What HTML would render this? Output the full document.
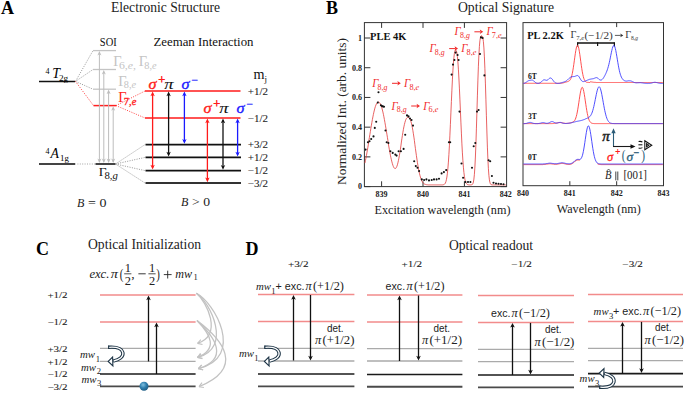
<!DOCTYPE html><html><head><meta charset="utf-8"><style>html,body{margin:0;padding:0;background:#fff;}svg{display:block;}</style></head><body><svg width="685" height="393" viewBox="0 0 685 393">
<rect width="685" height="393" fill="#fff"/>
<text x="1" y="14" font-family='"Liberation Serif", serif' font-size="18" fill="#000" font-weight="bold">A</text>
<text x="111" y="12" font-family='"Liberation Serif", serif' font-size="13.6" fill="#222" textLength="109" lengthAdjust="spacingAndGlyphs">Electronic Structure</text>
<text x="99.8" y="45.8" font-family='"Liberation Serif", serif' font-size="12" fill="#111" textLength="16.9" lengthAdjust="spacingAndGlyphs">SOI</text>
<text x="153.5" y="45.6" font-family='"Liberation Serif", serif' font-size="12" fill="#111" textLength="100" lengthAdjust="spacingAndGlyphs">Zeeman Interaction</text>
<line x1="39" y1="81.4" x2="75" y2="81.4" stroke="#111" stroke-width="1.5"/>
<line x1="39" y1="164" x2="75" y2="164" stroke="#444" stroke-width="2"/>
<text x="45.6" y="74" font-family='"Liberation Serif", serif' font-size="8" fill="#000">4</text>
<text x="52.3" y="78" font-family='"Liberation Serif", serif' font-size="14" fill="#000" font-style="italic">T</text>
<text x="58.9" y="80.6" font-family='"Liberation Serif", serif' font-size="8.5" fill="#000" textLength="9.3" lengthAdjust="spacingAndGlyphs">2g</text>
<text x="45.6" y="153.8" font-family='"Liberation Serif", serif' font-size="8" fill="#000">4</text>
<text x="50.6" y="157.7" font-family='"Liberation Serif", serif' font-size="13.8" fill="#000" font-style="italic">A</text>
<text x="60" y="161.3" font-family='"Liberation Serif", serif' font-size="8.5" fill="#000" textLength="8.8" lengthAdjust="spacingAndGlyphs">1g</text>
<line x1="93" y1="50.6" x2="116" y2="50.6" stroke="#c4c4c4" stroke-width="1.3"/>
<line x1="93" y1="69.5" x2="116" y2="69.5" stroke="#c4c4c4" stroke-width="1.3"/>
<line x1="93" y1="89.2" x2="116" y2="89.2" stroke="#c4c4c4" stroke-width="1.3"/>
<line x1="93.5" y1="105.6" x2="116" y2="105.6" stroke="#ff2020" stroke-width="1.5"/>
<line x1="75.5" y1="81.4" x2="93" y2="50.6" stroke="#8a8a8a" stroke-width="0.9" stroke-dasharray="1,1.4"/>
<line x1="75.5" y1="81.4" x2="93" y2="69.5" stroke="#8a8a8a" stroke-width="0.9" stroke-dasharray="1,1.4"/>
<line x1="75.5" y1="81.4" x2="93" y2="89.2" stroke="#8a8a8a" stroke-width="0.9" stroke-dasharray="1,1.4"/>
<line x1="75.5" y1="81.4" x2="93.5" y2="105.6" stroke="#ff3030" stroke-width="0.9" stroke-dasharray="1,1.4"/>
<line x1="75" y1="164" x2="95.5" y2="164" stroke="#999" stroke-width="0.9" stroke-dasharray="1,1.4"/>
<line x1="95.5" y1="164" x2="115.5" y2="164" stroke="#444" stroke-width="2"/>
<line x1="99.4" y1="52.9" x2="99.4" y2="162" stroke="#bdbdbd" stroke-width="1.0"/>
<polygon points="99.4,50.9 97.4,55.379999999999995 99.4,54.26 101.4,55.379999999999995" fill="#bdbdbd"/>
<polygon points="99.4,163 97.4,158.52 99.4,159.64 101.4,158.52" fill="#bdbdbd"/>
<line x1="103.8" y1="72" x2="103.8" y2="162" stroke="#bdbdbd" stroke-width="1.0"/>
<polygon points="103.8,70 101.8,74.48 103.8,73.36 105.8,74.48" fill="#bdbdbd"/>
<polygon points="103.8,163 101.8,158.52 103.8,159.64 105.8,158.52" fill="#bdbdbd"/>
<line x1="108.6" y1="91.6" x2="108.6" y2="162" stroke="#bdbdbd" stroke-width="1.0"/>
<polygon points="108.6,89.6 106.6,94.08 108.6,92.96 110.6,94.08" fill="#bdbdbd"/>
<polygon points="108.6,163 106.6,158.52 108.6,159.64 110.6,158.52" fill="#bdbdbd"/>
<line x1="113.2" y1="108.2" x2="113.2" y2="162" stroke="#bdbdbd" stroke-width="1.0"/>
<polygon points="113.2,106.2 111.2,110.68 113.2,109.56 115.2,110.68" fill="#bdbdbd"/>
<polygon points="113.2,163 111.2,158.52 113.2,159.64 115.2,158.52" fill="#bdbdbd"/>
<text x="113.3" y="65.9" font-family='"Liberation Serif", serif' font-size="14.5" fill="#c4c4c4">Γ</text>
<text x="118.89999999999999" y="68.60000000000001" font-family='"Liberation Serif", serif' font-size="9.5" fill="#c4c4c4" textLength="17" lengthAdjust="spacingAndGlyphs">6,<tspan font-style="italic">e</tspan>,</text>
<text x="138.7" y="65.9" font-family='"Liberation Serif", serif' font-size="14.5" fill="#c4c4c4">Γ</text>
<text x="144.29999999999998" y="68.60000000000001" font-family='"Liberation Serif", serif' font-size="9.5" fill="#c4c4c4" textLength="12.3" lengthAdjust="spacingAndGlyphs">8,<tspan font-style="italic">e</tspan></text>
<text x="118.2" y="85.7" font-family='"Liberation Serif", serif' font-size="14.5" fill="#c4c4c4">Γ</text>
<text x="123.8" y="88.4" font-family='"Liberation Serif", serif' font-size="9.5" fill="#c4c4c4" textLength="12.3" lengthAdjust="spacingAndGlyphs">8,<tspan font-style="italic">e</tspan></text>
<text x="118.2" y="102.2" font-family='"Liberation Serif", serif' font-size="14.5" fill="#ff2020">Γ</text>
<text x="123.8" y="104.9" font-family='"Liberation Serif", serif' font-size="9.5" fill="#ff2020" textLength="12.5" lengthAdjust="spacingAndGlyphs" stroke="#ff2020" stroke-width="0.3">7,<tspan font-style="italic">e</tspan></text>
<text x="98.8" y="176.3" font-family='"Liberation Serif", serif' font-size="13.5" fill="#111">Γ</text>
<text x="104.39999999999999" y="179.0" font-family='"Liberation Serif", serif' font-size="9.5" fill="#111" textLength="13.5" lengthAdjust="spacingAndGlyphs">8,<tspan font-style="italic">g</tspan></text>
<line x1="115.5" y1="164" x2="145" y2="144.6" stroke="#8a8a8a" stroke-width="0.9" stroke-dasharray="1,1.4"/>
<line x1="115.5" y1="164" x2="145" y2="157.4" stroke="#8a8a8a" stroke-width="0.9" stroke-dasharray="1,1.4"/>
<line x1="115.5" y1="164" x2="145" y2="170.6" stroke="#8a8a8a" stroke-width="0.9" stroke-dasharray="1,1.4"/>
<line x1="115.5" y1="164" x2="145" y2="183" stroke="#8a8a8a" stroke-width="0.9" stroke-dasharray="1,1.4"/>
<line x1="116" y1="105.6" x2="145" y2="91" stroke="#ff3030" stroke-width="0.9" stroke-dasharray="1,1.4"/>
<line x1="116" y1="105.6" x2="145" y2="118" stroke="#ff3030" stroke-width="0.9" stroke-dasharray="1,1.4"/>
<line x1="145" y1="91" x2="240.5" y2="91" stroke="#ff1a1a" stroke-width="1.35"/>
<line x1="145" y1="118" x2="240.5" y2="118" stroke="#ff1a1a" stroke-width="1.35"/>
<line x1="145.5" y1="144.6" x2="241" y2="144.6" stroke="#111" stroke-width="1.6"/>
<line x1="145.5" y1="157.4" x2="241" y2="157.4" stroke="#111" stroke-width="1.6"/>
<line x1="145.5" y1="170.6" x2="241" y2="170.6" stroke="#111" stroke-width="1.6"/>
<line x1="145.5" y1="183" x2="241" y2="183" stroke="#333" stroke-width="1.8"/>
<text x="253.4" y="79" font-family='"Liberation Serif", serif' font-size="15.5" fill="#111" textLength="11" lengthAdjust="spacingAndGlyphs">m</text>
<text x="264.6" y="82" font-family='"Liberation Serif", serif' font-size="9" fill="#111">j</text>
<text x="247.7" y="94.8" font-family='"Liberation Serif", serif' font-size="9.5" fill="#222" textLength="20.3" lengthAdjust="spacingAndGlyphs" stroke="#222" stroke-width="0.08">+1/2</text>
<text x="247.7" y="121.8" font-family='"Liberation Serif", serif' font-size="9.5" fill="#222" textLength="20.3" lengthAdjust="spacingAndGlyphs" stroke="#222" stroke-width="0.08">−1/2</text>
<text x="247.7" y="148.4" font-family='"Liberation Serif", serif' font-size="9.5" fill="#222" textLength="20.3" lengthAdjust="spacingAndGlyphs" stroke="#222" stroke-width="0.08">+3/2</text>
<text x="247.7" y="161.20000000000002" font-family='"Liberation Serif", serif' font-size="9.5" fill="#222" textLength="20.3" lengthAdjust="spacingAndGlyphs" stroke="#222" stroke-width="0.08">+1/2</text>
<text x="247.7" y="174.4" font-family='"Liberation Serif", serif' font-size="9.5" fill="#222" textLength="20.3" lengthAdjust="spacingAndGlyphs" stroke="#222" stroke-width="0.08">−1/2</text>
<text x="247.7" y="186.8" font-family='"Liberation Serif", serif' font-size="9.5" fill="#222" textLength="20.3" lengthAdjust="spacingAndGlyphs" stroke="#222" stroke-width="0.08">−3/2</text>
<line x1="152.6" y1="93.5" x2="152.6" y2="167.5" stroke="#ff1a1a" stroke-width="1.3"/>
<polygon points="152.6,91.5 150.4,96.3 152.6,95.1 154.79999999999998,96.3" fill="#ff1a1a"/>
<polygon points="152.6,169.5 150.4,164.7 152.6,165.9 154.79999999999998,164.7" fill="#ff1a1a"/>
<line x1="168.6" y1="93.5" x2="168.6" y2="154.6" stroke="#111" stroke-width="1.3"/>
<polygon points="168.6,91.5 166.4,96.3 168.6,95.1 170.79999999999998,96.3" fill="#111"/>
<polygon points="168.6,156.6 166.4,151.79999999999998 168.6,153.0 170.79999999999998,151.79999999999998" fill="#111"/>
<line x1="184.4" y1="93.5" x2="184.4" y2="141.8" stroke="#1a1aff" stroke-width="1.3"/>
<polygon points="184.4,91.5 182.20000000000002,96.3 184.4,95.1 186.6,96.3" fill="#1a1aff"/>
<polygon points="184.4,143.8 182.20000000000002,139.0 184.4,140.20000000000002 186.6,139.0" fill="#1a1aff"/>
<line x1="207.4" y1="120.5" x2="207.4" y2="180.2" stroke="#ff1a1a" stroke-width="1.3"/>
<polygon points="207.4,118.5 205.20000000000002,123.3 207.4,122.1 209.6,123.3" fill="#ff1a1a"/>
<polygon points="207.4,182.2 205.20000000000002,177.39999999999998 207.4,178.6 209.6,177.39999999999998" fill="#ff1a1a"/>
<line x1="223" y1="120.5" x2="223" y2="167.8" stroke="#111" stroke-width="1.3"/>
<polygon points="223,118.5 220.8,123.3 223,122.1 225.2,123.3" fill="#111"/>
<polygon points="223,169.8 220.8,165.0 223,166.20000000000002 225.2,165.0" fill="#111"/>
<line x1="237.6" y1="120.5" x2="237.6" y2="154.6" stroke="#1a1aff" stroke-width="1.3"/>
<polygon points="237.6,118.5 235.4,123.3 237.6,122.1 239.79999999999998,123.3" fill="#1a1aff"/>
<polygon points="237.6,156.6 235.4,151.79999999999998 237.6,153.0 239.79999999999998,151.79999999999998" fill="#1a1aff"/>
<text x="148.5" y="88.6" font-family='"Liberation Serif", serif' font-size="15.5" fill="#ff1a1a" font-style="italic" textLength="8" lengthAdjust="spacingAndGlyphs" stroke="#ff1a1a" stroke-width="0.35">σ</text>
<text x="158.3" y="83.8" font-family='"Liberation Serif", serif' font-size="12" fill="#ff1a1a" textLength="7" lengthAdjust="spacingAndGlyphs" stroke="#ff1a1a" stroke-width="0.45">+</text>
<text x="164.3" y="88.6" font-family='"Liberation Serif", serif' font-size="15.5" fill="#111" font-style="italic" textLength="9.2" lengthAdjust="spacingAndGlyphs" stroke="#111" stroke-width="0.08">π</text>
<text x="181.5" y="88.6" font-family='"Liberation Serif", serif' font-size="15.5" fill="#1a1aff" font-style="italic" textLength="8" lengthAdjust="spacingAndGlyphs" stroke="#1a1aff" stroke-width="0.35">σ</text>
<text x="191.5" y="83.5" font-family='"Liberation Serif", serif' font-size="12" fill="#1a1aff" textLength="6.5" lengthAdjust="spacingAndGlyphs" stroke="#1a1aff" stroke-width="0.3">−</text>
<text x="203.5" y="112.6" font-family='"Liberation Serif", serif' font-size="15.5" fill="#ff1a1a" font-style="italic" textLength="8" lengthAdjust="spacingAndGlyphs" stroke="#ff1a1a" stroke-width="0.35">σ</text>
<text x="213.3" y="107.8" font-family='"Liberation Serif", serif' font-size="12" fill="#ff1a1a" textLength="7" lengthAdjust="spacingAndGlyphs" stroke="#ff1a1a" stroke-width="0.45">+</text>
<text x="219.3" y="112.6" font-family='"Liberation Serif", serif' font-size="15.5" fill="#111" font-style="italic" textLength="9.2" lengthAdjust="spacingAndGlyphs" stroke="#111" stroke-width="0.08">π</text>
<text x="236.5" y="112.6" font-family='"Liberation Serif", serif' font-size="15.5" fill="#1a1aff" font-style="italic" textLength="8" lengthAdjust="spacingAndGlyphs" stroke="#1a1aff" stroke-width="0.35">σ</text>
<text x="246.5" y="107.5" font-family='"Liberation Serif", serif' font-size="12" fill="#1a1aff" textLength="6.5" lengthAdjust="spacingAndGlyphs" stroke="#1a1aff" stroke-width="0.3">−</text>
<text x="77" y="206.6" font-family='"Liberation Serif", serif' font-size="12" fill="#222" font-style="italic">B</text>
<text x="88" y="206.6" font-family='"Liberation Serif", serif' font-size="12" fill="#222" textLength="18.4" lengthAdjust="spacingAndGlyphs">= 0</text>
<text x="181" y="206.4" font-family='"Liberation Serif", serif' font-size="12" fill="#222" font-style="italic">B</text>
<text x="192" y="206.4" font-family='"Liberation Serif", serif' font-size="12" fill="#222" textLength="18" lengthAdjust="spacingAndGlyphs">&gt; 0</text>
<text x="326" y="13.5" font-family='"Liberation Serif", serif' font-size="18" fill="#000" font-weight="bold">B</text>
<text x="458" y="12" font-family='"Liberation Serif", serif' font-size="13.6" fill="#222" textLength="96" lengthAdjust="spacingAndGlyphs">Optical Signature</text>
<rect x="364.4" y="22.6" width="142.20000000000005" height="164.0" fill="none" stroke="#333" stroke-width="1"/>
<line x1="381.6" y1="22.6" x2="381.6" y2="27.900000000000002" stroke="#333" stroke-width="1"/>
<line x1="381.6" y1="186.6" x2="381.6" y2="181.29999999999998" stroke="#333" stroke-width="1"/>
<line x1="423.0" y1="22.6" x2="423.0" y2="27.900000000000002" stroke="#333" stroke-width="1"/>
<line x1="423.0" y1="186.6" x2="423.0" y2="181.29999999999998" stroke="#333" stroke-width="1"/>
<line x1="464.4" y1="22.6" x2="464.4" y2="27.900000000000002" stroke="#333" stroke-width="1"/>
<line x1="464.4" y1="186.6" x2="464.4" y2="181.29999999999998" stroke="#333" stroke-width="1"/>
<line x1="364.4" y1="186.6" x2="370.4" y2="186.6" stroke="#333" stroke-width="1"/>
<line x1="506.6" y1="186.6" x2="500.6" y2="186.6" stroke="#333" stroke-width="1"/>
<text x="362" y="189.4" font-family='"Liberation Serif", serif' font-size="8" fill="#222" font-weight="bold" text-anchor="end">0</text>
<line x1="364.4" y1="156.88" x2="370.4" y2="156.88" stroke="#333" stroke-width="1"/>
<line x1="506.6" y1="156.88" x2="500.6" y2="156.88" stroke="#333" stroke-width="1"/>
<text x="362" y="159.68" font-family='"Liberation Serif", serif' font-size="8" fill="#222" font-weight="bold" text-anchor="end">0.2</text>
<line x1="364.4" y1="127.16" x2="370.4" y2="127.16" stroke="#333" stroke-width="1"/>
<line x1="506.6" y1="127.16" x2="500.6" y2="127.16" stroke="#333" stroke-width="1"/>
<text x="362" y="129.96" font-family='"Liberation Serif", serif' font-size="8" fill="#222" font-weight="bold" text-anchor="end">0.4</text>
<line x1="364.4" y1="97.43999999999998" x2="370.4" y2="97.43999999999998" stroke="#333" stroke-width="1"/>
<line x1="506.6" y1="97.43999999999998" x2="500.6" y2="97.43999999999998" stroke="#333" stroke-width="1"/>
<text x="362" y="100.23999999999998" font-family='"Liberation Serif", serif' font-size="8" fill="#222" font-weight="bold" text-anchor="end">0.6</text>
<line x1="364.4" y1="67.72" x2="370.4" y2="67.72" stroke="#333" stroke-width="1"/>
<line x1="506.6" y1="67.72" x2="500.6" y2="67.72" stroke="#333" stroke-width="1"/>
<text x="362" y="70.52" font-family='"Liberation Serif", serif' font-size="8" fill="#222" font-weight="bold" text-anchor="end">0.8</text>
<line x1="364.4" y1="38.0" x2="370.4" y2="38.0" stroke="#333" stroke-width="1"/>
<line x1="506.6" y1="38.0" x2="500.6" y2="38.0" stroke="#333" stroke-width="1"/>
<text x="362" y="40.8" font-family='"Liberation Serif", serif' font-size="8" fill="#222" font-weight="bold" text-anchor="end">1</text>
<text x="381.6" y="196.5" font-family='"Liberation Serif", serif' font-size="8" fill="#222" font-weight="bold" text-anchor="middle">839</text>
<text x="423.0" y="196.5" font-family='"Liberation Serif", serif' font-size="8" fill="#222" font-weight="bold" text-anchor="middle">840</text>
<text x="464.4" y="196.5" font-family='"Liberation Serif", serif' font-size="8" fill="#222" font-weight="bold" text-anchor="middle">841</text>
<text x="505.8" y="196.5" font-family='"Liberation Serif", serif' font-size="8" fill="#222" font-weight="bold" text-anchor="middle">842</text>
<text x="374.5" y="213.6" font-family='"Liberation Serif", serif' font-size="12.1" fill="#222" textLength="136" lengthAdjust="spacingAndGlyphs">Excitation wavelength (nm)</text>
<text x="0" y="0" font-family='"Liberation Serif", serif' font-size="13" fill="#222" textLength="147" lengthAdjust="spacingAndGlyphs" transform="translate(346.2,185) rotate(-90)">Normalized Int. (arb. units)</text>
<text x="370" y="40" font-family='"Liberation Serif", serif' font-size="10.5" fill="#111" font-weight="bold" textLength="36.4" lengthAdjust="spacingAndGlyphs">PLE 4K</text>
<polyline points="364.9,163.1 365.4,160.7 365.9,158.3 366.4,155.7 366.9,152.9 367.4,150.1 367.9,147.2 368.4,144.2 368.9,140.5 369.4,137.4 369.9,134.4 370.4,131.3 370.9,128.2 371.4,125.2 371.9,122.3 372.4,119.5 372.9,116.9 373.4,114.4 373.9,112.1 374.4,110.0 374.9,108.1 375.4,106.5 375.9,105.1 376.4,104.0 376.9,103.1 377.4,102.5 377.9,102.2 378.4,102.0 378.9,102.1 379.4,102.5 379.9,103.1 380.4,103.9 380.9,105.1 381.4,106.5 381.9,108.1 382.4,110.0 382.9,112.0 383.4,114.3 383.9,116.8 384.4,119.5 384.9,122.3 385.4,125.2 385.9,128.1 386.4,131.2 386.9,134.2 387.4,137.3 387.9,140.4 388.4,144.0 388.9,147.0 389.4,149.8 389.9,152.6 390.4,155.2 390.9,157.6 391.4,159.8 391.9,161.9 392.4,163.7 392.9,165.3 393.4,166.6 393.9,167.6 394.4,168.2 394.9,168.6 395.4,168.5 395.9,168.2 396.4,167.4 396.9,166.3 397.4,164.8 397.9,162.9 398.4,160.7 398.9,158.2 399.4,155.4 399.9,152.4 400.4,149.2 400.9,145.9 401.4,142.0 401.9,138.7 402.4,135.4 402.9,132.3 403.4,129.4 403.9,126.8 404.4,124.5 404.9,122.5 405.4,120.8 405.9,119.5 406.4,118.5 406.9,117.9 407.4,117.5 407.9,117.4 408.4,117.5 408.9,117.6 409.4,118.1 409.9,118.8 410.4,119.9 410.9,121.4 411.4,123.2 411.9,125.4 412.4,127.9 412.9,130.7 413.4,133.8 413.9,137.1 414.4,140.6 414.9,144.7 415.4,148.4 415.9,152.0 416.4,155.6 416.9,159.0 417.4,162.3 417.9,165.4 418.4,168.2 418.9,170.8 419.4,173.2 419.9,175.2 420.4,177.0 420.9,178.6 421.4,179.9 421.9,181.0 422.4,181.9 422.9,182.7 423.4,183.2 423.9,183.7 424.4,184.0 424.9,184.3 425.4,184.4 425.9,184.6 426.4,184.7 426.9,184.7 427.4,184.8 427.9,184.8 428.4,184.9 428.9,184.9 429.4,184.9 429.9,184.9 430.4,184.9 430.9,184.9 431.4,184.9 431.9,184.9 432.4,184.9 432.9,184.9 433.4,184.9 433.9,184.9 434.4,184.9 434.9,184.9 435.4,184.9 435.9,184.9 436.4,184.9 436.9,184.9 437.4,184.9 437.9,184.9 438.4,184.9 438.9,184.9 439.4,184.9 439.9,184.9 440.4,184.9 440.9,184.9 441.4,184.9 441.9,184.9 442.4,184.9 442.9,184.8 443.4,184.7 443.9,184.6 444.4,184.3 444.9,183.8 445.4,183.0 445.9,181.7 446.4,179.7 446.9,177.0 447.4,173.2 447.9,168.3 448.4,162.1 448.9,154.6 449.4,145.8 449.9,135.2 450.4,124.3 450.9,112.9 451.4,101.4 451.9,90.2 452.4,79.9 452.9,70.8 453.4,63.3 453.9,57.5 454.4,53.5 454.9,51.2 455.4,50.3 455.9,50.2 456.4,50.9 456.9,52.9 457.4,56.6 457.9,62.0 458.4,69.2 458.9,78.0 459.4,88.1 459.9,99.1 460.4,110.6 460.9,122.1 461.4,133.1 461.9,143.9 462.4,152.9 462.9,160.7 463.4,167.2 463.9,172.4 464.4,176.3 464.9,179.3 465.4,181.3 465.9,182.7 466.4,183.6 466.9,184.2 467.4,184.5 467.9,184.7 468.4,184.8 468.9,184.8 469.4,184.9 469.9,184.9 470.4,184.9 470.9,184.9 471.4,184.8 471.9,184.7 472.4,184.4 472.9,183.6 473.4,182.0 473.9,179.1 474.4,174.3 474.9,167.0 475.4,157.0 475.9,144.4 476.4,128.9 476.9,112.5 477.4,95.9 477.9,80.1 478.4,66.2 478.9,54.9 479.4,46.4 479.9,40.8 480.4,37.6 480.9,36.1 481.4,35.8 481.9,35.8 482.4,36.3 482.9,38.0 483.4,41.7 483.9,47.9 484.4,56.9 484.9,68.8 485.4,83.1 485.9,99.2 486.4,115.8 486.9,132.0 487.4,147.1 487.9,159.3 488.4,168.7 488.9,175.4 489.4,179.8 489.9,182.4 490.4,183.8 490.9,184.5 491.4,184.7 491.9,184.8 492.4,184.9 492.9,184.9 493.4,184.9 493.9,184.9 494.4,184.9 494.9,184.9 495.4,184.9 495.9,184.9 496.4,184.9 496.9,184.9 497.4,184.9 497.9,184.9 498.4,184.9 498.9,184.9 499.4,184.9 499.9,184.9 500.4,184.9 500.9,184.9 501.4,184.9 501.9,184.9 502.4,184.9 502.9,184.9 503.4,184.9 503.9,184.9 504.4,184.9 504.9,184.9 505.4,184.9 505.9,184.9" fill="none" stroke="#e23a3a" stroke-width="0.8"/>
<circle cx="378.5" cy="92.2" r="1.05" fill="#111"/>
<circle cx="365.6" cy="149.6" r="1.05" fill="#111"/>
<circle cx="367.9" cy="142.3" r="1.05" fill="#111"/>
<circle cx="369.5" cy="141.3" r="1.05" fill="#111"/>
<circle cx="371.2" cy="139" r="1.05" fill="#111"/>
<circle cx="373.5" cy="136.4" r="1.05" fill="#111"/>
<circle cx="374.8" cy="127.9" r="1.05" fill="#111"/>
<circle cx="376.2" cy="121.8" r="1.05" fill="#111"/>
<circle cx="377.8" cy="102.6" r="1.05" fill="#111"/>
<circle cx="380.9" cy="105.2" r="1.05" fill="#111"/>
<circle cx="381.9" cy="106" r="1.05" fill="#111"/>
<circle cx="382.9" cy="106.4" r="1.05" fill="#111"/>
<circle cx="384" cy="106.7" r="1.05" fill="#111"/>
<circle cx="385.5" cy="130.5" r="1.05" fill="#111"/>
<circle cx="386.7" cy="142.3" r="1.05" fill="#111"/>
<circle cx="388.4" cy="143" r="1.05" fill="#111"/>
<circle cx="390.4" cy="151.3" r="1.05" fill="#111"/>
<circle cx="392.7" cy="152.9" r="1.05" fill="#111"/>
<circle cx="395.3" cy="154.6" r="1.05" fill="#111"/>
<circle cx="396.6" cy="155.6" r="1.05" fill="#111"/>
<circle cx="398.6" cy="151.3" r="1.05" fill="#111"/>
<circle cx="400.9" cy="151.3" r="1.05" fill="#111"/>
<circle cx="403.6" cy="148.9" r="1.05" fill="#111"/>
<circle cx="405.2" cy="134.7" r="1.05" fill="#111"/>
<circle cx="407" cy="115.4" r="1.05" fill="#111"/>
<circle cx="408.5" cy="116.4" r="1.05" fill="#111"/>
<circle cx="410" cy="118.5" r="1.05" fill="#111"/>
<circle cx="411.5" cy="120" r="1.05" fill="#111"/>
<circle cx="413" cy="125.6" r="1.05" fill="#111"/>
<circle cx="414.2" cy="161.2" r="1.05" fill="#111"/>
<circle cx="415.8" cy="166.1" r="1.05" fill="#111"/>
<circle cx="417.5" cy="167.8" r="1.05" fill="#111"/>
<circle cx="419.1" cy="171.1" r="1.05" fill="#111"/>
<circle cx="421.8" cy="179.4" r="1.05" fill="#111"/>
<circle cx="424.1" cy="180" r="1.05" fill="#111"/>
<circle cx="426.4" cy="179.4" r="1.05" fill="#111"/>
<circle cx="429" cy="180.4" r="1.05" fill="#111"/>
<circle cx="431.7" cy="180" r="1.05" fill="#111"/>
<circle cx="434" cy="179.4" r="1.05" fill="#111"/>
<circle cx="436.6" cy="179.4" r="1.05" fill="#111"/>
<circle cx="439" cy="178.7" r="1.05" fill="#111"/>
<circle cx="441.6" cy="173.4" r="1.05" fill="#111"/>
<circle cx="443.9" cy="172.1" r="1.05" fill="#111"/>
<circle cx="446.2" cy="170.1" r="1.05" fill="#111"/>
<circle cx="448.9" cy="142.3" r="1.05" fill="#111"/>
<circle cx="450.2" cy="142.3" r="1.05" fill="#111"/>
<circle cx="451.6" cy="74.6" r="1.05" fill="#111"/>
<circle cx="453" cy="64.6" r="1.05" fill="#111"/>
<circle cx="454.4" cy="60" r="1.05" fill="#111"/>
<circle cx="455.6" cy="52.6" r="1.05" fill="#111"/>
<circle cx="457.6" cy="55" r="1.05" fill="#111"/>
<circle cx="458.6" cy="60" r="1.05" fill="#111"/>
<circle cx="459.5" cy="111.6" r="1.05" fill="#111"/>
<circle cx="461.5" cy="163.5" r="1.05" fill="#111"/>
<circle cx="463.1" cy="177.7" r="1.05" fill="#111"/>
<circle cx="465.4" cy="182" r="1.05" fill="#111"/>
<circle cx="468" cy="182" r="1.05" fill="#111"/>
<circle cx="470.4" cy="182" r="1.05" fill="#111"/>
<circle cx="472" cy="167.8" r="1.05" fill="#111"/>
<circle cx="473.7" cy="146.3" r="1.05" fill="#111"/>
<circle cx="475.3" cy="143" r="1.05" fill="#111"/>
<circle cx="477" cy="111.6" r="1.05" fill="#111"/>
<circle cx="478.6" cy="110" r="1.05" fill="#111"/>
<circle cx="480" cy="54" r="1.05" fill="#111"/>
<circle cx="481" cy="37.4" r="1.05" fill="#111"/>
<circle cx="482.6" cy="38" r="1.05" fill="#111"/>
<circle cx="484.4" cy="75.4" r="1.05" fill="#111"/>
<circle cx="488.6" cy="160.2" r="1.05" fill="#111"/>
<circle cx="490.2" cy="161.2" r="1.05" fill="#111"/>
<circle cx="491.9" cy="176" r="1.05" fill="#111"/>
<circle cx="493.5" cy="182.7" r="1.05" fill="#111"/>
<circle cx="496" cy="183.5" r="1.05" fill="#111"/>
<circle cx="498.5" cy="183.8" r="1.05" fill="#111"/>
<circle cx="501" cy="184" r="1.05" fill="#111"/>
<circle cx="503.5" cy="184.2" r="1.05" fill="#111"/>
<text x="372.2" y="86.9" font-family='"Liberation Serif", serif' font-size="11.6" fill="#f02a2a" font-style="italic" textLength="6.2" lengthAdjust="spacingAndGlyphs">Γ</text>
<text x="377.59999999999997" y="89.5" font-family='"Liberation Serif", serif' font-size="8.352" fill="#f02a2a" textLength="9.8" lengthAdjust="spacingAndGlyphs">8,<tspan font-style="italic">g</tspan></text>
<line x1="392.0" y1="83.30000000000001" x2="397.90000000000003" y2="83.30000000000001" stroke="#f02a2a" stroke-width="1.0"/>
<polygon points="400.8,83.30000000000001 397.40000000000003,81.00000000000001 398.08,83.30000000000001 397.40000000000003,85.60000000000001" fill="#f02a2a"/>
<text x="404.0" y="86.9" font-family='"Liberation Serif", serif' font-size="11.6" fill="#f02a2a" font-style="italic" textLength="6.2" lengthAdjust="spacingAndGlyphs">Γ</text>
<text x="409.4" y="89.5" font-family='"Liberation Serif", serif' font-size="8.352" fill="#f02a2a" textLength="9.8" lengthAdjust="spacingAndGlyphs">8,<tspan font-style="italic">e</tspan></text>
<text x="391.4" y="109.6" font-family='"Liberation Serif", serif' font-size="11.6" fill="#f02a2a" font-style="italic" textLength="6.2" lengthAdjust="spacingAndGlyphs">Γ</text>
<text x="396.79999999999995" y="112.19999999999999" font-family='"Liberation Serif", serif' font-size="8.352" fill="#f02a2a" textLength="9.8" lengthAdjust="spacingAndGlyphs">8,<tspan font-style="italic">g</tspan></text>
<line x1="411.2" y1="106.0" x2="417.1" y2="106.0" stroke="#f02a2a" stroke-width="1.0"/>
<polygon points="420.0,106.0 416.6,103.7 417.28,106.0 416.6,108.3" fill="#f02a2a"/>
<text x="423.2" y="109.6" font-family='"Liberation Serif", serif' font-size="11.6" fill="#f02a2a" font-style="italic" textLength="6.2" lengthAdjust="spacingAndGlyphs">Γ</text>
<text x="428.59999999999997" y="112.19999999999999" font-family='"Liberation Serif", serif' font-size="8.352" fill="#f02a2a" textLength="9.8" lengthAdjust="spacingAndGlyphs">6,<tspan font-style="italic">e</tspan></text>
<text x="429.4" y="52.2" font-family='"Liberation Serif", serif' font-size="11.6" fill="#f02a2a" font-style="italic" textLength="6.2" lengthAdjust="spacingAndGlyphs">Γ</text>
<text x="434.79999999999995" y="54.800000000000004" font-family='"Liberation Serif", serif' font-size="8.352" fill="#f02a2a" textLength="9.8" lengthAdjust="spacingAndGlyphs">8,<tspan font-style="italic">g</tspan></text>
<line x1="449.2" y1="48.6" x2="455.1" y2="48.6" stroke="#f02a2a" stroke-width="1.0"/>
<polygon points="458.0,48.6 454.6,46.300000000000004 455.28,48.6 454.6,50.9" fill="#f02a2a"/>
<text x="461.2" y="52.2" font-family='"Liberation Serif", serif' font-size="11.6" fill="#f02a2a" font-style="italic" textLength="6.2" lengthAdjust="spacingAndGlyphs">Γ</text>
<text x="466.59999999999997" y="54.800000000000004" font-family='"Liberation Serif", serif' font-size="8.352" fill="#f02a2a" textLength="9.8" lengthAdjust="spacingAndGlyphs">8,<tspan font-style="italic">e</tspan></text>
<text x="454.6" y="35.4" font-family='"Liberation Serif", serif' font-size="11.6" fill="#f02a2a" font-style="italic" textLength="6.2" lengthAdjust="spacingAndGlyphs">Γ</text>
<text x="460.0" y="38.0" font-family='"Liberation Serif", serif' font-size="8.352" fill="#f02a2a" textLength="9.8" lengthAdjust="spacingAndGlyphs">8,<tspan font-style="italic">g</tspan></text>
<line x1="474.40000000000003" y1="31.799999999999997" x2="480.30000000000007" y2="31.799999999999997" stroke="#f02a2a" stroke-width="1.0"/>
<polygon points="483.20000000000005,31.799999999999997 479.80000000000007,29.499999999999996 480.48,31.799999999999997 479.80000000000007,34.099999999999994" fill="#f02a2a"/>
<text x="486.40000000000003" y="35.4" font-family='"Liberation Serif", serif' font-size="11.6" fill="#f02a2a" font-style="italic" textLength="6.2" lengthAdjust="spacingAndGlyphs">Γ</text>
<text x="491.8" y="38.0" font-family='"Liberation Serif", serif' font-size="8.352" fill="#f02a2a" textLength="9.8" lengthAdjust="spacingAndGlyphs">7,<tspan font-style="italic">e</tspan></text>
<rect x="523" y="22.6" width="140.5" height="163.1" fill="none" stroke="#333" stroke-width="1"/>
<line x1="569.83" y1="22.6" x2="569.83" y2="27.1" stroke="#333" stroke-width="1"/>
<line x1="569.83" y1="185.7" x2="569.83" y2="181.2" stroke="#333" stroke-width="1"/>
<line x1="616.66" y1="22.6" x2="616.66" y2="27.1" stroke="#333" stroke-width="1"/>
<line x1="616.66" y1="185.7" x2="616.66" y2="181.2" stroke="#333" stroke-width="1"/>
<text x="523.0" y="195.5" font-family='"Liberation Serif", serif' font-size="8" fill="#222" font-weight="bold" text-anchor="middle">840</text>
<text x="569.83" y="195.5" font-family='"Liberation Serif", serif' font-size="8" fill="#222" font-weight="bold" text-anchor="middle">841</text>
<text x="616.66" y="195.5" font-family='"Liberation Serif", serif' font-size="8" fill="#222" font-weight="bold" text-anchor="middle">842</text>
<text x="663.49" y="195.5" font-family='"Liberation Serif", serif' font-size="8" fill="#222" font-weight="bold" text-anchor="middle">843</text>
<text x="556.8" y="212.7" font-family='"Liberation Serif", serif' font-size="12.1" fill="#222" textLength="84" lengthAdjust="spacingAndGlyphs">Wavelength (nm)</text>
<text x="527.2" y="38.7" font-family='"Liberation Serif", serif' font-size="10.8" fill="#111" font-weight="bold" textLength="36.6" lengthAdjust="spacingAndGlyphs">PL 2.2K</text>
<text x="528" y="78.5" font-family='"Liberation Serif", serif' font-size="7.5" fill="#111" font-weight="bold">6T</text>
<text x="528" y="119" font-family='"Liberation Serif", serif' font-size="7.5" fill="#111" font-weight="bold">3T</text>
<text x="528" y="159.5" font-family='"Liberation Serif", serif' font-size="7.5" fill="#111" font-weight="bold">0T</text>
<text x="570.4" y="38.4" font-family='"Liberation Serif", serif' font-size="10.2" fill="#333">Γ</text>
<text x="576.2" y="40.3" font-family='"Liberation Serif", serif' font-size="6.8" fill="#333" textLength="8" lengthAdjust="spacingAndGlyphs">7,<tspan font-style="italic">e</tspan></text>
<text x="584.6" y="38.6" font-family='"Liberation Serif", serif' font-size="10.5" fill="#333" textLength="28.2" lengthAdjust="spacingAndGlyphs">(−1/2)</text>
<line x1="614.9" y1="35.4" x2="620.8" y2="35.4" stroke="#333" stroke-width="0.8"/>
<polygon points="623.3,35.4 620.3,33.5 620.9,35.4 620.3,37.3" fill="#333"/>
<text x="625.3" y="38.4" font-family='"Liberation Serif", serif' font-size="10.2" fill="#333">Γ</text>
<text x="631" y="40.3" font-family='"Liberation Serif", serif' font-size="6.8" fill="#333" textLength="7" lengthAdjust="spacingAndGlyphs">8,<tspan font-style="italic">g</tspan></text>
<line x1="577.6" y1="43" x2="614.4" y2="43" stroke="#111" stroke-width="1.6"/>
<line x1="577.6" y1="42.2" x2="577.6" y2="46.5" stroke="#111" stroke-width="1.2"/>
<line x1="614.4" y1="42.2" x2="614.4" y2="46.5" stroke="#111" stroke-width="1.2"/>
<line x1="597.6" y1="42.2" x2="597.6" y2="46" stroke="#111" stroke-width="1.2"/>
<polyline points="523.3,83.3 523.8,83.3 524.3,83.3 524.8,83.3 525.3,83.3 525.8,83.3 526.3,83.3 526.8,83.3 527.3,83.3 527.8,83.3 528.3,83.3 528.8,83.3 529.3,83.3 529.8,83.3 530.3,83.3 530.8,83.3 531.3,83.3 531.8,83.3 532.3,83.3 532.8,83.3 533.3,83.3 533.8,83.3 534.3,83.3 534.8,83.3 535.3,83.3 535.8,83.3 536.3,83.3 536.8,83.3 537.3,83.3 537.8,83.3 538.3,83.3 538.8,83.3 539.3,83.3 539.8,83.3 540.3,83.3 540.8,83.3 541.3,83.3 541.8,83.3 542.3,83.3 542.8,83.3 543.3,83.3 543.8,83.3 544.3,83.3 544.8,83.3 545.3,83.3 545.8,83.3 546.3,83.3 546.8,83.3 547.3,83.3 547.8,83.3 548.3,83.3 548.8,83.3 549.3,83.3 549.8,83.3 550.3,83.3 550.8,83.3 551.3,83.3 551.8,83.3 552.3,83.3 552.8,83.3 553.3,83.3 553.8,83.3 554.3,83.3 554.8,83.3 555.3,83.3 555.8,83.3 556.3,83.3 556.8,83.3 557.3,83.3 557.8,83.3 558.3,83.3 558.8,83.3 559.3,83.3 559.8,83.3 560.3,83.2 560.8,83.2 561.3,83.2 561.8,83.1 562.3,83.1 562.8,83.0 563.3,82.9 563.8,82.7 564.3,82.6 564.8,82.4 565.3,82.3 565.8,82.1 566.3,82.0 566.8,81.8 567.3,81.7 567.8,81.5 568.3,81.3 568.8,81.1 569.3,80.8 569.8,80.3 570.3,79.6 570.8,78.7 571.3,77.3 571.8,75.6 572.3,73.5 572.8,70.8 573.3,67.8 573.8,64.4 574.3,60.8 574.8,57.2 575.3,53.7 575.8,50.6 576.3,48.0 576.8,46.2 577.3,45.4 577.8,45.5 578.3,46.5 578.8,48.5 579.3,51.2 579.8,54.4 580.3,58.0 580.8,61.7 581.3,65.3 581.8,68.7 582.3,71.8 582.8,74.4 583.3,76.6 583.8,78.3 584.3,79.6 584.8,80.6 585.3,81.3 585.8,81.8 586.3,82.1 586.8,82.3 587.3,82.4 587.8,82.4 588.3,82.4 588.8,82.5 589.3,82.5 589.8,82.5 590.3,81.8 590.8,81.8 591.3,81.9 591.8,82.0 592.3,82.1 592.8,82.1 593.3,82.2 593.8,82.3 594.3,82.3 594.8,82.4 595.3,82.4 595.8,82.4 596.3,82.5 596.8,82.5 597.3,82.5 597.8,82.5 598.3,82.5 598.8,82.5 599.3,82.5 599.8,82.5 600.3,82.5 600.8,82.5 601.3,82.5 601.8,82.5 602.3,82.5 602.8,82.5 603.3,82.5 603.8,82.5 604.3,82.5 604.8,82.5 605.3,82.5 605.8,82.5 606.3,82.5 606.8,82.5 607.3,82.5 607.8,82.5 608.3,82.5 608.8,82.5 609.3,82.5 609.8,82.5 610.3,82.5 610.8,82.5 611.3,82.5 611.8,82.5 612.3,82.5 612.8,82.5 613.3,82.5 613.8,82.5 614.3,82.5 614.8,82.5 615.3,82.5 615.8,82.5 616.3,82.5 616.8,82.5 617.3,82.5 617.8,82.5 618.3,82.5 618.8,82.5 619.3,82.5 619.8,82.5 620.3,82.5 620.8,82.5 621.3,82.5 621.8,82.5 622.3,82.5 622.8,82.5 623.3,82.5 623.8,82.5 624.3,82.5 624.8,82.5 625.3,82.5 625.8,82.5 626.3,82.5 626.8,82.5 627.3,82.5 627.8,82.5 628.3,82.5 628.8,82.5 629.3,82.5 629.8,82.5 630.3,82.5 630.8,82.5 631.3,82.5 631.8,82.5 632.3,82.5 632.8,82.5 633.3,82.5 633.8,82.5 634.3,82.5 634.8,82.5 635.3,82.5 635.8,82.5 636.3,82.5 636.8,82.5 637.3,82.5 637.8,82.5 638.3,82.5 638.8,82.5 639.3,82.5 639.8,82.5 640.3,82.5 640.8,82.5 641.3,82.5 641.8,82.5 642.3,82.5 642.8,82.5 643.3,82.5 643.8,82.5 644.3,82.5 644.8,82.5 645.3,82.5 645.8,82.5 646.3,82.5 646.8,82.5 647.3,82.5 647.8,82.5 648.3,82.5 648.8,82.5 649.3,82.5 649.8,82.5 650.3,82.5 650.8,82.5 651.3,82.5 651.8,82.5 652.3,82.5 652.8,82.5 653.3,82.5 653.8,82.5 654.3,82.5 654.8,82.5 655.3,82.5 655.8,82.5 656.3,82.5 656.8,82.5 657.3,82.5 657.8,82.5 658.3,82.5 658.8,82.5 659.3,82.5 659.8,82.5 660.3,82.5 660.8,82.5 661.3,82.5 661.8,82.5 662.3,82.5 662.8,82.5" fill="none" stroke="#ff3b3b" stroke-width="0.9"/>
<polyline points="523.3,83.4 523.8,83.3 524.3,83.2 524.8,83.1 525.3,82.8 525.8,82.5 526.3,82.2 526.8,81.8 527.3,81.4 527.8,81.1 528.3,80.8 528.8,80.6 529.3,80.5 529.8,80.4 530.3,80.3 530.8,80.2 531.3,80.1 531.8,80.1 532.3,80.1 532.8,80.3 533.3,80.6 533.8,81.0 534.3,81.5 534.8,81.9 535.3,82.4 535.8,82.7 536.3,83.0 536.8,83.2 537.3,83.3 537.8,83.3 538.3,83.3 538.8,83.3 539.3,83.1 539.8,82.9 540.3,82.6 540.8,82.3 541.3,81.8 541.8,81.4 542.3,80.9 542.8,80.5 543.3,80.1 543.8,79.9 544.3,79.8 544.8,79.9 545.3,80.0 545.8,80.2 546.3,80.3 546.8,80.3 547.3,80.1 547.8,79.8 548.3,79.4 548.8,78.9 549.3,78.5 549.8,78.1 550.3,78.0 550.8,78.0 551.3,78.3 551.8,78.7 552.3,79.3 552.8,80.0 553.3,80.7 553.8,81.4 554.3,81.9 554.8,82.4 555.3,82.8 555.8,83.0 556.3,83.2 556.8,83.3 557.3,83.4 557.8,83.4 558.3,83.4 558.8,83.3 559.3,83.3 559.8,83.2 560.3,83.1 560.8,83.0 561.3,82.8 561.8,82.7 562.3,82.5 562.8,82.3 563.3,82.2 563.8,82.0 564.3,81.8 564.8,81.7 565.3,81.5 565.8,81.2 566.3,80.9 566.8,80.5 567.3,80.1 567.8,79.6 568.3,79.1 568.8,78.6 569.3,78.2 569.8,77.8 570.3,77.4 570.8,77.1 571.3,76.9 571.8,76.8 572.3,76.7 572.8,76.6 573.3,76.6 573.8,76.5 574.3,76.5 574.8,76.4 575.3,76.2 575.8,76.0 576.3,75.8 576.8,75.6 577.3,75.5 577.8,75.6 578.3,75.9 578.8,76.5 579.3,77.2 579.8,78.1 580.3,78.9 580.8,79.7 581.3,80.4 581.8,81.0 582.3,81.3 582.8,81.5 583.3,81.6 583.8,81.5 584.3,81.4 584.8,81.3 585.3,81.1 585.8,80.8 586.3,80.6 586.8,80.4 587.3,80.2 587.8,80.0 588.3,79.8 588.8,79.6 589.3,79.4 589.8,79.3 590.3,79.2 590.8,79.1 591.3,79.0 591.8,78.9 592.3,78.8 592.8,78.8 593.3,78.7 593.8,78.5 594.3,78.3 594.8,78.1 595.3,77.9 595.8,77.7 596.3,77.6 596.8,77.7 597.3,77.9 597.8,78.2 598.3,78.6 598.8,79.1 599.3,79.5 599.8,79.8 600.3,80.0 600.8,80.1 601.3,80.0 601.8,79.7 602.3,79.3 602.8,78.8 603.3,78.2 603.8,77.4 604.3,76.5 604.8,75.6 605.3,74.6 605.8,73.6 606.3,72.4 606.8,71.2 607.3,69.8 607.8,68.3 608.3,66.6 608.8,64.7 609.3,62.6 609.8,60.3 610.3,57.9 610.8,55.3 611.3,52.8 611.8,50.5 612.3,48.5 612.8,46.9 613.3,45.8 613.8,45.4 614.3,45.7 614.8,46.7 615.3,48.4 615.8,50.6 616.3,53.3 616.8,56.2 617.3,59.2 617.8,62.3 618.3,65.2 618.8,67.9 619.3,70.3 619.8,72.5 620.3,74.2 620.8,75.7 621.3,77.0 621.8,77.9 622.3,78.7 622.8,79.4 623.3,79.9 623.8,80.3 624.3,80.6 624.8,80.8 625.3,81.0 625.8,81.0 626.3,81.1 626.8,81.1 627.3,81.0 627.8,80.9 628.3,80.8 628.8,80.8 629.3,80.8 629.8,80.8 630.3,80.8 630.8,81.0 631.3,81.1 631.8,81.3 632.3,81.6 632.8,81.8 633.3,82.0 633.8,82.3 634.3,82.5 634.8,82.6 635.3,82.7 635.8,82.8 636.3,82.8 636.8,82.9 637.3,82.8 637.8,82.8 638.3,82.8 638.8,82.7 639.3,82.7 639.8,82.7 640.3,82.7 640.8,82.7 641.3,82.8 641.8,82.8 642.3,82.9 642.8,83.0 643.3,83.1 643.8,83.1 644.3,83.2 644.8,83.3 645.3,83.3 645.8,83.4 646.3,83.4 646.8,83.4 647.3,83.4 647.8,83.5 648.3,83.4 648.8,83.4 649.3,83.4 649.8,83.4 650.3,83.3 650.8,83.2 651.3,83.1 651.8,83.0 652.3,82.8 652.8,82.7 653.3,82.5 653.8,82.4 654.3,82.3 654.8,82.3 655.3,82.3 655.8,82.4 656.3,82.5 656.8,82.6 657.3,82.7 657.8,82.9 658.3,83.0 658.8,83.1 659.3,83.2 659.8,83.3 660.3,83.4 660.8,83.4 661.3,83.4 661.8,83.5 662.3,83.5 662.8,83.5" fill="none" stroke="#3a3aff" stroke-width="0.9"/>
<polyline points="523.3,123.6 523.8,123.6 524.3,123.6 524.8,123.6 525.3,123.6 525.8,123.6 526.3,123.6 526.8,123.6 527.3,123.6 527.8,123.6 528.3,123.6 528.8,123.6 529.3,123.6 529.8,123.6 530.3,123.6 530.8,123.6 531.3,123.6 531.8,123.6 532.3,123.6 532.8,123.6 533.3,123.6 533.8,123.6 534.3,123.6 534.8,123.6 535.3,123.6 535.8,123.6 536.3,123.6 536.8,123.6 537.3,123.6 537.8,123.6 538.3,123.6 538.8,123.6 539.3,123.6 539.8,123.6 540.3,123.6 540.8,123.6 541.3,123.6 541.8,123.6 542.3,123.6 542.8,123.6 543.3,123.6 543.8,123.6 544.3,123.6 544.8,123.6 545.3,123.6 545.8,123.6 546.3,123.6 546.8,123.6 547.3,123.6 547.8,123.6 548.3,123.6 548.8,123.6 549.3,123.6 549.8,123.6 550.3,123.6 550.8,123.6 551.3,123.6 551.8,123.6 552.3,123.6 552.8,123.5 553.3,123.5 553.8,123.5 554.3,123.4 554.8,123.4 555.3,123.3 555.8,123.2 556.3,123.1 556.8,123.0 557.3,122.9 557.8,122.8 558.3,122.7 558.8,122.7 559.3,122.6 559.8,122.6 560.3,122.6 560.8,122.6 561.3,122.7 561.8,122.8 562.3,122.9 562.8,123.0 563.3,123.0 563.8,123.1 564.3,123.2 564.8,123.3 565.3,123.4 565.8,123.4 566.3,123.4 566.8,123.4 567.3,123.4 567.8,123.3 568.3,123.3 568.8,123.2 569.3,123.1 569.8,123.0 570.3,122.9 570.8,122.8 571.3,122.6 571.8,122.5 572.3,122.3 572.8,122.1 573.3,121.8 573.8,121.5 574.3,121.0 574.8,120.3 575.3,119.3 575.8,118.0 576.3,116.4 576.8,114.4 577.3,112.0 577.8,109.2 578.3,106.1 578.8,102.8 579.3,99.4 579.8,96.1 580.3,93.1 580.8,90.6 581.3,88.7 581.8,87.6 582.3,87.3 582.8,87.9 583.3,89.4 583.8,91.6 584.3,94.3 584.8,97.5 585.3,100.9 585.8,104.3 586.3,107.6 586.8,110.7 587.3,113.4 587.8,115.7 588.3,117.7 588.8,119.3 589.3,120.5 589.8,121.4 590.3,122.1 590.8,122.6 591.3,123.0 591.8,123.2 592.3,123.4 592.8,123.4 593.3,123.5 593.8,123.5 594.3,123.6 594.8,123.6 595.3,123.6 595.8,123.6 596.3,123.6 596.8,123.6 597.3,123.6 597.8,123.6 598.3,123.6 598.8,123.6 599.3,123.6 599.8,123.6 600.3,123.6 600.8,123.6 601.3,123.6 601.8,123.6 602.3,123.6 602.8,123.6 603.3,123.6 603.8,123.6 604.3,123.6 604.8,123.6 605.3,123.6 605.8,123.6 606.3,123.6 606.8,123.6 607.3,123.6 607.8,123.6 608.3,123.6 608.8,123.6 609.3,123.6 609.8,123.6 610.3,123.6 610.8,123.6 611.3,123.6 611.8,123.6 612.3,123.6 612.8,123.6 613.3,123.6 613.8,123.6 614.3,123.6 614.8,123.6 615.3,123.6 615.8,123.6 616.3,123.6 616.8,123.6 617.3,123.6 617.8,123.6 618.3,123.6 618.8,123.6 619.3,123.6 619.8,123.6 620.3,123.6 620.8,123.6 621.3,123.6 621.8,123.6 622.3,123.6 622.8,123.6 623.3,123.6 623.8,123.6 624.3,123.6 624.8,123.6 625.3,123.6 625.8,123.6 626.3,123.6 626.8,123.6 627.3,123.6 627.8,123.6 628.3,123.6 628.8,123.6 629.3,123.6 629.8,123.6 630.3,123.6 630.8,123.6 631.3,123.6 631.8,123.6 632.3,123.6 632.8,123.6 633.3,123.6 633.8,123.6 634.3,123.6 634.8,123.6 635.3,123.6 635.8,123.6 636.3,123.6 636.8,123.6 637.3,123.6 637.8,123.6 638.3,123.6 638.8,123.6 639.3,123.6 639.8,123.6 640.3,123.6 640.8,123.6 641.3,123.6 641.8,123.6 642.3,123.6 642.8,123.6 643.3,123.6 643.8,123.6 644.3,123.6 644.8,123.6 645.3,123.6 645.8,123.6 646.3,123.6 646.8,123.6 647.3,123.6 647.8,123.6 648.3,123.6 648.8,123.6 649.3,123.6 649.8,123.6 650.3,123.6 650.8,123.6 651.3,123.6 651.8,123.6 652.3,123.6 652.8,123.6 653.3,123.6 653.8,123.6 654.3,123.6 654.8,123.6 655.3,123.6 655.8,123.6 656.3,123.6 656.8,123.6 657.3,123.6 657.8,123.6 658.3,123.6 658.8,123.6 659.3,123.6 659.8,123.6 660.3,123.6 660.8,123.6 661.3,123.6 661.8,123.6 662.3,123.6 662.8,123.6" fill="none" stroke="#ff3b3b" stroke-width="0.9"/>
<polyline points="523.3,123.6 523.8,123.6 524.3,123.6 524.8,123.6 525.3,123.5 525.8,123.5 526.3,123.4 526.8,123.3 527.3,123.1 527.8,122.9 528.3,122.8 528.8,122.6 529.3,122.5 529.8,122.4 530.3,122.4 530.8,122.5 531.3,122.6 531.8,122.8 532.3,123.0 532.8,123.1 533.3,123.3 533.8,123.4 534.3,123.5 534.8,123.5 535.3,123.6 535.8,123.6 536.3,123.6 536.8,123.6 537.3,123.6 537.8,123.6 538.3,123.5 538.8,123.5 539.3,123.4 539.8,123.3 540.3,123.2 540.8,123.1 541.3,122.9 541.8,122.8 542.3,122.7 542.8,122.6 543.3,122.6 543.8,122.7 544.3,122.8 544.8,122.9 545.3,123.1 545.8,123.2 546.3,123.3 546.8,123.3 547.3,123.3 547.8,123.2 548.3,123.1 548.8,122.9 549.3,122.7 549.8,122.4 550.3,122.1 550.8,121.9 551.3,121.7 551.8,121.6 552.3,121.6 552.8,121.7 553.3,121.9 553.8,122.2 554.3,122.4 554.8,122.7 555.3,122.9 555.8,123.0 556.3,123.1 556.8,123.1 557.3,123.0 557.8,122.9 558.3,122.7 558.8,122.6 559.3,122.5 559.8,122.4 560.3,122.4 560.8,122.5 561.3,122.6 561.8,122.8 562.3,123.0 562.8,123.1 563.3,123.3 563.8,123.4 564.3,123.4 564.8,123.5 565.3,123.5 565.8,123.5 566.3,123.5 566.8,123.4 567.3,123.4 567.8,123.3 568.3,123.3 568.8,123.2 569.3,123.2 569.8,123.1 570.3,123.0 570.8,122.9 571.3,122.8 571.8,122.7 572.3,122.5 572.8,122.4 573.3,122.3 573.8,122.1 574.3,122.0 574.8,121.9 575.3,121.8 575.8,121.6 576.3,121.5 576.8,121.4 577.3,121.3 577.8,121.2 578.3,121.1 578.8,121.0 579.3,120.9 579.8,120.8 580.3,120.7 580.8,120.6 581.3,120.5 581.8,120.3 582.3,120.2 582.8,120.0 583.3,119.8 583.8,119.7 584.3,119.5 584.8,119.3 585.3,119.0 585.8,118.8 586.3,118.6 586.8,118.4 587.3,118.2 587.8,117.9 588.3,117.7 588.8,117.4 589.3,117.0 589.8,116.6 590.3,116.0 590.8,115.3 591.3,114.4 591.8,113.3 592.3,112.0 592.8,110.4 593.3,108.6 593.8,106.6 594.3,104.3 594.8,101.9 595.3,99.4 595.8,96.9 596.3,94.4 596.8,92.2 597.3,90.2 597.8,88.6 598.3,87.5 598.8,86.9 599.3,86.8 599.8,87.3 600.3,88.4 600.8,90.0 601.3,92.0 601.8,94.4 602.3,97.1 602.8,99.8 603.3,102.7 603.8,105.5 604.3,108.2 604.8,110.7 605.3,112.9 605.8,114.9 606.3,116.7 606.8,118.2 607.3,119.4 607.8,120.4 608.3,121.2 608.8,121.8 609.3,122.3 609.8,122.7 610.3,123.0 610.8,123.2 611.3,123.3 611.8,123.4 612.3,123.5 612.8,123.5 613.3,123.5 613.8,123.6 614.3,123.6 614.8,123.6 615.3,123.6 615.8,123.6 616.3,123.6 616.8,123.6 617.3,123.6 617.8,123.6 618.3,123.6 618.8,123.6 619.3,123.6 619.8,123.6 620.3,123.6 620.8,123.6 621.3,123.6 621.8,123.6 622.3,123.6 622.8,123.6 623.3,123.6 623.8,123.6 624.3,123.6 624.8,123.6 625.3,123.6 625.8,123.6 626.3,123.6 626.8,123.6 627.3,123.6 627.8,123.6 628.3,123.6 628.8,123.6 629.3,123.6 629.8,123.6 630.3,123.6 630.8,123.6 631.3,123.6 631.8,123.6 632.3,123.6 632.8,123.6 633.3,123.6 633.8,123.6 634.3,123.6 634.8,123.6 635.3,123.6 635.8,123.6 636.3,123.6 636.8,123.6 637.3,123.6 637.8,123.6 638.3,123.6 638.8,123.6 639.3,123.6 639.8,123.6 640.3,123.6 640.8,123.6 641.3,123.6 641.8,123.6 642.3,123.6 642.8,123.6 643.3,123.6 643.8,123.6 644.3,123.6 644.8,123.6 645.3,123.6 645.8,123.6 646.3,123.6 646.8,123.6 647.3,123.6 647.8,123.6 648.3,123.6 648.8,123.6 649.3,123.6 649.8,123.6 650.3,123.6 650.8,123.6 651.3,123.6 651.8,123.6 652.3,123.6 652.8,123.6 653.3,123.6 653.8,123.6 654.3,123.6 654.8,123.6 655.3,123.6 655.8,123.6 656.3,123.6 656.8,123.6 657.3,123.6 657.8,123.6 658.3,123.6 658.8,123.6 659.3,123.6 659.8,123.6 660.3,123.6 660.8,123.6 661.3,123.6 661.8,123.6 662.3,123.6 662.8,123.6" fill="none" stroke="#3a3aff" stroke-width="0.9"/>
<polyline points="523.3,164.6 523.8,164.6 524.3,164.6 524.8,164.6 525.3,164.6 525.8,164.6 526.3,164.6 526.8,164.6 527.3,164.6 527.8,164.6 528.3,164.6 528.8,164.6 529.3,164.6 529.8,164.6 530.3,164.6 530.8,164.6 531.3,164.6 531.8,164.6 532.3,164.6 532.8,164.6 533.3,164.6 533.8,164.6 534.3,164.6 534.8,164.6 535.3,164.6 535.8,164.6 536.3,164.6 536.8,164.6 537.3,164.6 537.8,164.6 538.3,164.6 538.8,164.6 539.3,164.6 539.8,164.6 540.3,164.6 540.8,164.6 541.3,164.6 541.8,164.6 542.3,164.6 542.8,164.6 543.3,164.5 543.8,164.5 544.3,164.5 544.8,164.4 545.3,164.4 545.8,164.3 546.3,164.2 546.8,164.1 547.3,164.1 547.8,164.0 548.3,163.9 548.8,163.9 549.3,163.8 549.8,163.8 550.3,163.8 550.8,163.8 551.3,163.9 551.8,163.9 552.3,164.0 552.8,164.1 553.3,164.1 553.8,164.2 554.3,164.3 554.8,164.3 555.3,164.3 555.8,164.3 556.3,164.3 556.8,164.3 557.3,164.2 557.8,164.1 558.3,164.0 558.8,163.9 559.3,163.8 559.8,163.7 560.3,163.6 560.8,163.5 561.3,163.4 561.8,163.4 562.3,163.4 562.8,163.4 563.3,163.5 563.8,163.6 564.3,163.7 564.8,163.8 565.3,163.9 565.8,164.1 566.3,164.2 566.8,164.3 567.3,164.3 567.8,164.4 568.3,164.4 568.8,164.4 569.3,164.4 569.8,164.4 570.3,164.3 570.8,164.2 571.3,164.0 571.8,163.8 572.3,163.5 572.8,163.2 573.3,162.8 573.8,162.4 574.3,162.0 574.8,161.5 575.3,161.1 575.8,160.7 576.3,160.4 576.8,160.2 577.3,160.0 577.8,160.0 578.3,160.0 578.8,160.0 579.3,160.1 579.8,160.0" fill="none" stroke="#ff3b3b" stroke-width="0.9"/>
<polyline points="597.3,163.6 597.8,163.9 598.3,164.2 598.8,164.3 599.3,164.4 599.8,164.5 600.3,164.5 600.8,164.6 601.3,164.6 601.8,164.6 602.3,164.6 602.8,164.6 603.3,164.6 603.8,164.6 604.3,164.6 604.8,164.6 605.3,164.6 605.8,164.6 606.3,164.6 606.8,164.6 607.3,164.6 607.8,164.6 608.3,164.6 608.8,164.6 609.3,164.6 609.8,164.6 610.3,164.6 610.8,164.6 611.3,164.6 611.8,164.6 612.3,164.6 612.8,164.6 613.3,164.6 613.8,164.6 614.3,164.6 614.8,164.6 615.3,164.6 615.8,164.6 616.3,164.6 616.8,164.6 617.3,164.6 617.8,164.6 618.3,164.6 618.8,164.6 619.3,164.6 619.8,164.6 620.3,164.6 620.8,164.6 621.3,164.6 621.8,164.6 622.3,164.6 622.8,164.6 623.3,164.6 623.8,164.6 624.3,164.6 624.8,164.6 625.3,164.6 625.8,164.6 626.3,164.6 626.8,164.6 627.3,164.6 627.8,164.6 628.3,164.6 628.8,164.6 629.3,164.6 629.8,164.6 630.3,164.6 630.8,164.6 631.3,164.6 631.8,164.6 632.3,164.6 632.8,164.6 633.3,164.6 633.8,164.6 634.3,164.6 634.8,164.6 635.3,164.6 635.8,164.6 636.3,164.6 636.8,164.6 637.3,164.6 637.8,164.6 638.3,164.6 638.8,164.6 639.3,164.6 639.8,164.6 640.3,164.6 640.8,164.6 641.3,164.6 641.8,164.6 642.3,164.6 642.8,164.6 643.3,164.6 643.8,164.6 644.3,164.6 644.8,164.6 645.3,164.6 645.8,164.6 646.3,164.6 646.8,164.6 647.3,164.6 647.8,164.6 648.3,164.6 648.8,164.6 649.3,164.6 649.8,164.6 650.3,164.6 650.8,164.6 651.3,164.6 651.8,164.6 652.3,164.6 652.8,164.6 653.3,164.6 653.8,164.6 654.3,164.6 654.8,164.6 655.3,164.6 655.8,164.6 656.3,164.6 656.8,164.6 657.3,164.6 657.8,164.6 658.3,164.6 658.8,164.6 659.3,164.6 659.8,164.6 660.3,164.6 660.8,164.6 661.3,164.6 661.8,164.6 662.3,164.6 662.8,164.6" fill="none" stroke="#ff3b3b" stroke-width="0.9"/>
<polyline points="523.3,164.0 523.8,164.0 524.3,164.0 524.8,164.0 525.3,164.0 525.8,164.0 526.3,164.0 526.8,164.0 527.3,164.0 527.8,164.0 528.3,164.0 528.8,164.0 529.3,164.0 529.8,164.0 530.3,164.0 530.8,164.0 531.3,164.0 531.8,164.0 532.3,164.0 532.8,164.0 533.3,164.0 533.8,164.0 534.3,164.0 534.8,164.0 535.3,164.0 535.8,164.0 536.3,164.0 536.8,164.0 537.3,164.0 537.8,164.0 538.3,164.0 538.8,164.0 539.3,164.0 539.8,164.0 540.3,164.0 540.8,164.0 541.3,164.0 541.8,164.0 542.3,164.0 542.8,164.0 543.3,163.9 543.8,163.9 544.3,163.9 544.8,163.8 545.3,163.8 545.8,163.7 546.3,163.6 546.8,163.5 547.3,163.5 547.8,163.4 548.3,163.3 548.8,163.3 549.3,163.2 549.8,163.2 550.3,163.2 550.8,163.2 551.3,163.3 551.8,163.3 552.3,163.4 552.8,163.5 553.3,163.5 553.8,163.6 554.3,163.7 554.8,163.7 555.3,163.7 555.8,163.7 556.3,163.7 556.8,163.7 557.3,163.6 557.8,163.5 558.3,163.4 558.8,163.3 559.3,163.2 559.8,163.1 560.3,163.0 560.8,162.9 561.3,162.8 561.8,162.8 562.3,162.8 562.8,162.8 563.3,162.9 563.8,163.0 564.3,163.1 564.8,163.2 565.3,163.3 565.8,163.5 566.3,163.6 566.8,163.7 567.3,163.7 567.8,163.8 568.3,163.8 568.8,163.8 569.3,163.8 569.8,163.8 570.3,163.7 570.8,163.6 571.3,163.4 571.8,163.2 572.3,162.9 572.8,162.6 573.3,162.2 573.8,161.8 574.3,161.4 574.8,160.9 575.3,160.5 575.8,160.1 576.3,159.8 576.8,159.6 577.3,159.4 577.8,159.4 578.3,159.4 578.8,159.4 579.3,159.5 579.8,159.4 580.3,159.3 580.8,158.9 581.3,158.2 581.8,157.2 582.3,155.8 582.8,154.0 583.3,151.7 583.8,149.0 584.3,146.0 584.8,142.7 585.3,139.3 585.8,135.9 586.3,132.7 586.8,130.0 587.3,127.8 587.8,126.4 588.3,125.8 588.8,126.1 589.3,127.2 589.8,129.1 590.3,131.6 590.8,134.7 591.3,138.0 591.8,141.5 592.3,145.0 592.8,148.3 593.3,151.3 593.8,154.0 594.3,156.3 594.8,158.2 595.3,159.7 595.8,160.9 596.3,161.8 596.8,162.5 597.3,163.0 597.8,163.3 598.3,163.6 598.8,163.7 599.3,163.8 599.8,163.9 600.3,163.9 600.8,164.0 601.3,164.0 601.8,164.0 602.3,164.0 602.8,164.0 603.3,164.0 603.8,164.0 604.3,164.0 604.8,164.0 605.3,164.0 605.8,164.0 606.3,164.0 606.8,164.0 607.3,164.0 607.8,164.0 608.3,164.0 608.8,164.0 609.3,164.0 609.8,164.0 610.3,164.0 610.8,164.0 611.3,164.0 611.8,164.0 612.3,164.0 612.8,164.0 613.3,164.0 613.8,164.0 614.3,164.0 614.8,164.0 615.3,164.0 615.8,164.0 616.3,164.0 616.8,164.0 617.3,164.0 617.8,164.0 618.3,164.0 618.8,164.0 619.3,164.0 619.8,164.0 620.3,164.0 620.8,164.0 621.3,164.0 621.8,164.0 622.3,164.0 622.8,164.0 623.3,164.0 623.8,164.0 624.3,164.0 624.8,164.0 625.3,164.0 625.8,164.0 626.3,164.0 626.8,164.0 627.3,164.0 627.8,164.0 628.3,164.0 628.8,164.0 629.3,164.0 629.8,164.0 630.3,164.0 630.8,164.0 631.3,164.0 631.8,164.0 632.3,164.0 632.8,164.0 633.3,164.0 633.8,164.0 634.3,164.0 634.8,164.0 635.3,164.0 635.8,164.0 636.3,164.0 636.8,164.0 637.3,164.0 637.8,164.0 638.3,164.0 638.8,164.0 639.3,164.0 639.8,164.0 640.3,164.0 640.8,164.0 641.3,164.0 641.8,164.0 642.3,164.0 642.8,164.0 643.3,164.0 643.8,164.0 644.3,164.0 644.8,164.0 645.3,164.0 645.8,164.0 646.3,164.0 646.8,164.0 647.3,164.0 647.8,164.0 648.3,164.0 648.8,164.0 649.3,164.0 649.8,164.0 650.3,164.0 650.8,164.0 651.3,164.0 651.8,164.0 652.3,164.0 652.8,164.0 653.3,164.0 653.8,164.0 654.3,164.0 654.8,164.0 655.3,164.0 655.8,164.0 656.3,164.0 656.8,164.0 657.3,164.0 657.8,164.0 658.3,164.0 658.8,164.0 659.3,164.0 659.8,164.0 660.3,164.0 660.8,164.0 661.3,164.0 661.8,164.0 662.3,164.0 662.8,164.0" fill="none" stroke="#3a3aff" stroke-width="0.9"/>
<line x1="613.5" y1="131" x2="613.5" y2="146.5" stroke="#2b5c78" stroke-width="1.1"/>
<line x1="613" y1="146.5" x2="632" y2="146.5" stroke="#1a1a1a" stroke-width="1.1"/>
<polygon points="613.5,128.2 611.3,133.2 615.7,133.2" fill="#2b5c78"/>
<polygon points="635.5,146.5 630.5,144.3 630.5,148.7" fill="#111"/>
<text x="602.3" y="140.8" font-family='"Liberation Serif", serif' font-size="15" fill="#1a1a1a" font-style="italic" textLength="7.6" lengthAdjust="spacingAndGlyphs" stroke="#1a1a1a" stroke-width="0.45">π</text>
<g stroke="#111" stroke-width="1.05" fill="none"><path d="M638.6,141.6 q2,-0.6 3.8,0.4"/><path d="M638.4,144.8 h4"/><path d="M638.6,148 q2,0.6 3.8,-0.4"/><polygon points="644.8,140.8 651.8,145.2 644.8,149.8"/><polygon points="646.6,143.6 648.8,145.2 646.6,146.8"/></g>
<text x="607" y="160.6" font-family='"Liberation Serif", serif' font-size="13.5" fill="#ff1a1a" font-style="italic" textLength="6.2" lengthAdjust="spacingAndGlyphs" stroke="#ff1a1a" stroke-width="0.3">σ</text>
<text x="615.2" y="155.4" font-family='"Liberation Serif", serif' font-size="9.5" fill="#ff1a1a" textLength="5" lengthAdjust="spacingAndGlyphs" stroke="#ff1a1a" stroke-width="0.3">+</text>
<text x="621.7" y="160.3" font-family='"Liberation Serif", serif' font-size="14.5" fill="#2b5c78" textLength="3.8" lengthAdjust="spacingAndGlyphs">(</text>
<text x="626.4" y="160.6" font-family='"Liberation Serif", serif' font-size="13.5" fill="#2b5c78" font-style="italic" textLength="6.6" lengthAdjust="spacingAndGlyphs" stroke="#2b5c78" stroke-width="0.3">σ</text>
<text x="633.6" y="155.8" font-family='"Liberation Serif", serif' font-size="9.5" fill="#2b5c78" textLength="5.6" lengthAdjust="spacingAndGlyphs" stroke="#2b5c78" stroke-width="0.35">−</text>
<text x="641.2" y="160.3" font-family='"Liberation Serif", serif' font-size="14.5" fill="#2b5c78" textLength="3.8" lengthAdjust="spacingAndGlyphs">)</text>
<text x="605" y="178.8" font-family='"Liberation Serif", serif' font-size="12.5" fill="#222" font-style="italic" textLength="6.5" lengthAdjust="spacingAndGlyphs">B</text>
<path d="M606.6,171.2 L608.6,169 L610.6,171.2" fill="none" stroke="#222" stroke-width="0.7"/>
<line x1="615.8" y1="171.5" x2="615.8" y2="180.4" stroke="#222" stroke-width="0.85"/>
<line x1="617.8" y1="171.5" x2="617.8" y2="180.4" stroke="#222" stroke-width="0.85"/>
<text x="623.4" y="179" font-family='"Liberation Serif", serif' font-size="12.5" fill="#222" textLength="23.6" lengthAdjust="spacingAndGlyphs">[001]</text>
<text x="36" y="254.5" font-family='"Liberation Serif", serif' font-size="18" fill="#000" font-weight="bold">C</text>
<text x="88" y="248.6" font-family='"Liberation Serif", serif' font-size="13.6" fill="#222" textLength="113" lengthAdjust="spacingAndGlyphs">Optical Initialization</text>
<text x="89.4" y="277.8" font-family='"Liberation Serif", serif' font-size="13.5" fill="#222" font-style="italic" textLength="20" lengthAdjust="spacingAndGlyphs">exc.</text>
<text x="110.8" y="277.8" font-family='"Liberation Serif", serif' font-size="13.5" fill="#222" font-style="italic" textLength="7.2" lengthAdjust="spacingAndGlyphs">π</text>
<text x="119.8" y="278.6" font-family='"Liberation Serif", serif' font-size="15" fill="#222" textLength="3.6" lengthAdjust="spacingAndGlyphs">(</text>
<text x="127.8" y="271.8" font-family='"Liberation Serif", serif' font-size="12.4" fill="#222" text-anchor="middle">1</text>
<line x1="124.2" y1="273.8" x2="131.4" y2="273.8" stroke="#222" stroke-width="0.8"/>
<text x="127.8" y="285.2" font-family='"Liberation Serif", serif' font-size="12.4" fill="#222" text-anchor="middle">2</text>
<text x="131.3" y="277.8" font-family='"Liberation Serif", serif' font-size="13.5" fill="#222">,</text>
<line x1="138.4" y1="273.8" x2="145.7" y2="273.8" stroke="#222" stroke-width="0.9"/>
<text x="152" y="271.8" font-family='"Liberation Serif", serif' font-size="12.4" fill="#222" text-anchor="middle">1</text>
<line x1="148.4" y1="273.8" x2="155.6" y2="273.8" stroke="#222" stroke-width="0.8"/>
<text x="152" y="285.2" font-family='"Liberation Serif", serif' font-size="12.4" fill="#222" text-anchor="middle">2</text>
<text x="156.2" y="278.6" font-family='"Liberation Serif", serif' font-size="15" fill="#222" textLength="3.6" lengthAdjust="spacingAndGlyphs">)</text>
<line x1="163.8" y1="274.6" x2="171.6" y2="274.6" stroke="#222" stroke-width="0.9"/>
<line x1="167.7" y1="270.7" x2="167.7" y2="278.5" stroke="#222" stroke-width="0.9"/>
<text x="175.2" y="277.8" font-family='"Liberation Serif", serif' font-size="13.5" fill="#222" font-style="italic" textLength="16.8" lengthAdjust="spacingAndGlyphs">mw</text>
<text x="193.5" y="279.8" font-family='"Liberation Serif", serif' font-size="8.5" fill="#222">1</text>
<line x1="100" y1="295" x2="195.6" y2="295" stroke="#f28b8b" stroke-width="1.5"/>
<line x1="100" y1="322" x2="195.6" y2="322" stroke="#f28b8b" stroke-width="1.5"/>
<line x1="100" y1="348.4" x2="195.6" y2="348.4" stroke="#aaaaaa" stroke-width="1.3"/>
<line x1="100" y1="361.4" x2="195.6" y2="361.4" stroke="#aaaaaa" stroke-width="1.3"/>
<line x1="100" y1="374" x2="195.6" y2="374" stroke="#1a1a1a" stroke-width="1.6"/>
<line x1="100" y1="386.4" x2="195.6" y2="386.4" stroke="#4a4a4a" stroke-width="1.9"/>
<text x="47.4" y="298.3" font-family='"Liberation Serif", serif' font-size="9" fill="#222" textLength="20.2" lengthAdjust="spacingAndGlyphs" stroke="#222" stroke-width="0.08">+1/2</text>
<text x="47.4" y="325.3" font-family='"Liberation Serif", serif' font-size="9" fill="#222" textLength="20.2" lengthAdjust="spacingAndGlyphs" stroke="#222" stroke-width="0.08">−1/2</text>
<text x="47.4" y="351.7" font-family='"Liberation Serif", serif' font-size="9" fill="#222" textLength="20.2" lengthAdjust="spacingAndGlyphs" stroke="#222" stroke-width="0.08">+3/2</text>
<text x="47.4" y="364.7" font-family='"Liberation Serif", serif' font-size="9" fill="#222" textLength="20.2" lengthAdjust="spacingAndGlyphs" stroke="#222" stroke-width="0.08">+1/2</text>
<text x="47.4" y="377.3" font-family='"Liberation Serif", serif' font-size="9" fill="#222" textLength="20.2" lengthAdjust="spacingAndGlyphs" stroke="#222" stroke-width="0.08">−1/2</text>
<text x="47.4" y="389.7" font-family='"Liberation Serif", serif' font-size="9" fill="#222" textLength="20.2" lengthAdjust="spacingAndGlyphs" stroke="#222" stroke-width="0.08">−3/2</text>
<text x="80" y="358" font-family='"Liberation Serif", serif' font-size="11" fill="#222" font-style="italic" textLength="15" lengthAdjust="spacingAndGlyphs">mw</text>
<text x="95.8" y="361.6" font-family='"Liberation Serif", serif' font-size="8.6" fill="#222">1</text>
<text x="81" y="370.6" font-family='"Liberation Serif", serif' font-size="11" fill="#222" font-style="italic" textLength="15" lengthAdjust="spacingAndGlyphs">mw</text>
<text x="96.8" y="374.20000000000005" font-family='"Liberation Serif", serif' font-size="8.6" fill="#222">2</text>
<text x="81.4" y="382.6" font-family='"Liberation Serif", serif' font-size="11" fill="#222" font-style="italic" textLength="15" lengthAdjust="spacingAndGlyphs">mw</text>
<text x="97.1" y="386.20000000000005" font-family='"Liberation Serif", serif' font-size="8.6" fill="#222">3</text>
<line x1="148.5" y1="297.5" x2="148.5" y2="361.4" stroke="#111" stroke-width="1.3"/>
<polygon points="148.5,295.5 146.2,300.14 148.5,298.98 150.8,300.14" fill="#111"/>
<line x1="156.5" y1="324.5" x2="156.5" y2="374" stroke="#111" stroke-width="1.3"/>
<polygon points="156.5,322.5 154.2,327.14 156.5,325.98 158.8,327.14" fill="#111"/>
<defs><radialGradient id="ball" cx="0.4" cy="0.35" r="0.7"><stop offset="0" stop-color="#7fc0e0"/><stop offset="0.5" stop-color="#2f7fae"/><stop offset="1" stop-color="#1d5a80"/></radialGradient></defs>
<circle cx="144" cy="386.2" r="4.5" fill="url(#ball)"/>
<g transform="translate(108.2,346)" fill="none" stroke-linejoin="miter"><path d="M0,1.3 C7,0.8 13.5,2.2 14.6,6.5 C15.6,10.5 11.5,13.6 5,15.1" stroke="#1d3446" stroke-width="3.4"/><path d="M0.6,1.3 C7,0.8 13.5,2.2 14.6,6.5 C15.6,10.5 11.5,13.6 5.4,15.0" stroke="#fff" stroke-width="1.3"/><line x1="0.5" y1="-0.4" x2="0.5" y2="3" stroke="#1d3446" stroke-width="1"/><polygon points="0,15.4 4.4,11.1 4.7,19.9" fill="#fff" stroke="#1d3446" stroke-width="1.1"/></g>
<path d="M196.4,293.2 C207,302 223,335 197.6,343.4" fill="none" stroke="#c2c2c2" stroke-width="1.25"/>
<line x1="197.6" y1="343.4" x2="202.5" y2="344.5" stroke="#c2c2c2" stroke-width="1.1"/>
<line x1="197.6" y1="343.4" x2="200.8" y2="339.6" stroke="#c2c2c2" stroke-width="1.1"/>
<path d="M196.4,293.2 C210,302 233,348 197.6,357.4" fill="none" stroke="#c2c2c2" stroke-width="1.25"/>
<line x1="197.6" y1="357.4" x2="202.4" y2="358.8" stroke="#c2c2c2" stroke-width="1.1"/>
<line x1="197.6" y1="357.4" x2="201.0" y2="353.8" stroke="#c2c2c2" stroke-width="1.1"/>
<path d="M196.4,293.2 C214,302 246,357 198.3,368.6" fill="none" stroke="#c2c2c2" stroke-width="1.25"/>
<line x1="198.3" y1="368.6" x2="203.1" y2="370.1" stroke="#c2c2c2" stroke-width="1.1"/>
<line x1="198.3" y1="368.6" x2="201.8" y2="365.1" stroke="#c2c2c2" stroke-width="1.1"/>
<path d="M197,320.5 C211,335 218,349 197.6,357.4" fill="none" stroke="#c2c2c2" stroke-width="1.25"/>
<line x1="197.6" y1="357.4" x2="202.5" y2="358.2" stroke="#c2c2c2" stroke-width="1.1"/>
<line x1="197.6" y1="357.4" x2="200.5" y2="353.4" stroke="#c2c2c2" stroke-width="1.1"/>
<path d="M197,320.5 C216,338 229,359 198.3,368.6" fill="none" stroke="#c2c2c2" stroke-width="1.25"/>
<line x1="198.3" y1="368.6" x2="203.1" y2="369.8" stroke="#c2c2c2" stroke-width="1.1"/>
<line x1="198.3" y1="368.6" x2="201.6" y2="364.8" stroke="#c2c2c2" stroke-width="1.1"/>
<path d="M197,320.5 C223,340 245,368 199,386.7" fill="none" stroke="#c2c2c2" stroke-width="1.25"/>
<line x1="199" y1="386.7" x2="203.9" y2="387.5" stroke="#c2c2c2" stroke-width="1.1"/>
<line x1="199" y1="386.7" x2="202.0" y2="382.7" stroke="#c2c2c2" stroke-width="1.1"/>
<text x="245.5" y="254.5" font-family='"Liberation Serif", serif' font-size="18" fill="#000" font-weight="bold">D</text>
<text x="449" y="249.6" font-family='"Liberation Serif", serif' font-size="13.6" fill="#222" textLength="84" lengthAdjust="spacingAndGlyphs">Optical readout</text>
<line x1="258" y1="294.4" x2="354.4" y2="294.4" stroke="#f28b8b" stroke-width="1.5"/>
<line x1="258" y1="321.6" x2="354.4" y2="321.6" stroke="#f28b8b" stroke-width="1.5"/>
<line x1="258" y1="348.4" x2="354.4" y2="348.4" stroke="#aaaaaa" stroke-width="1.3"/>
<line x1="258" y1="361" x2="354.4" y2="361" stroke="#aaaaaa" stroke-width="1.3"/>
<line x1="258" y1="374" x2="354.4" y2="374" stroke="#1a1a1a" stroke-width="1.6"/>
<line x1="258" y1="386.4" x2="354.4" y2="386.4" stroke="#4a4a4a" stroke-width="1.9"/>
<text x="288" y="267.2" font-family='"Liberation Serif", serif' font-size="8.3" fill="#222" textLength="20.5" lengthAdjust="spacingAndGlyphs" stroke="#222" stroke-width="0.08">+3/2</text>
<line x1="293.5" y1="297" x2="293.5" y2="360.5" stroke="#111" stroke-width="1.3"/>
<polygon points="293.5,295 291.2,299.64 293.5,298.48 295.8,299.64" fill="#111"/>
<line x1="310.5" y1="295" x2="310.5" y2="358.5" stroke="#111" stroke-width="1.3"/>
<polygon points="310.5,360.5 308.2,355.86 310.5,357.02 312.8,355.86" fill="#111"/>
<line x1="367" y1="295" x2="462.4" y2="295" stroke="#f28b8b" stroke-width="1.5"/>
<line x1="367" y1="322" x2="462.4" y2="322" stroke="#f28b8b" stroke-width="1.5"/>
<line x1="367" y1="348.6" x2="462.4" y2="348.6" stroke="#aaaaaa" stroke-width="1.3"/>
<line x1="367" y1="361" x2="462.4" y2="361" stroke="#aaaaaa" stroke-width="1.3"/>
<line x1="367" y1="374.5" x2="462.4" y2="374.5" stroke="#1a1a1a" stroke-width="1.6"/>
<line x1="367" y1="386.7" x2="462.4" y2="386.7" stroke="#4a4a4a" stroke-width="1.9"/>
<text x="401.6" y="267.2" font-family='"Liberation Serif", serif' font-size="8.3" fill="#222" textLength="20.5" lengthAdjust="spacingAndGlyphs" stroke="#222" stroke-width="0.08">+1/2</text>
<line x1="399.5" y1="297.5" x2="399.5" y2="361" stroke="#111" stroke-width="1.3"/>
<polygon points="399.5,295.5 397.2,300.14 399.5,298.98 401.8,300.14" fill="#111"/>
<line x1="418.5" y1="295.5" x2="418.5" y2="358.5" stroke="#111" stroke-width="1.3"/>
<polygon points="418.5,360.5 416.2,355.86 418.5,357.02 420.8,355.86" fill="#111"/>
<line x1="478" y1="295.6" x2="574" y2="295.6" stroke="#f28b8b" stroke-width="1.5"/>
<line x1="478" y1="322.4" x2="574" y2="322.4" stroke="#f28b8b" stroke-width="1.5"/>
<line x1="478" y1="349.4" x2="574" y2="349.4" stroke="#aaaaaa" stroke-width="1.3"/>
<line x1="478" y1="361.6" x2="574" y2="361.6" stroke="#aaaaaa" stroke-width="1.3"/>
<line x1="478" y1="375" x2="574" y2="375" stroke="#1a1a1a" stroke-width="1.6"/>
<line x1="478" y1="387.4" x2="574" y2="387.4" stroke="#4a4a4a" stroke-width="1.9"/>
<text x="511.4" y="267.2" font-family='"Liberation Serif", serif' font-size="8.3" fill="#222" textLength="20.5" lengthAdjust="spacingAndGlyphs" stroke="#222" stroke-width="0.08">−1/2</text>
<line x1="512.5" y1="324.9" x2="512.5" y2="375" stroke="#111" stroke-width="1.3"/>
<polygon points="512.5,322.9 510.2,327.53999999999996 512.5,326.38 514.8,327.53999999999996" fill="#111"/>
<line x1="530.5" y1="322.9" x2="530.5" y2="372.5" stroke="#111" stroke-width="1.3"/>
<polygon points="530.5,374.5 528.2,369.86 530.5,371.02 532.8,369.86" fill="#111"/>
<line x1="588" y1="294.4" x2="683" y2="294.4" stroke="#f28b8b" stroke-width="1.5"/>
<line x1="588" y1="321.4" x2="683" y2="321.4" stroke="#f28b8b" stroke-width="1.5"/>
<line x1="588" y1="348.4" x2="683" y2="348.4" stroke="#aaaaaa" stroke-width="1.3"/>
<line x1="588" y1="360.6" x2="683" y2="360.6" stroke="#aaaaaa" stroke-width="1.3"/>
<line x1="588" y1="373.6" x2="683" y2="373.6" stroke="#1a1a1a" stroke-width="1.6"/>
<line x1="588" y1="386.6" x2="683" y2="386.6" stroke="#4a4a4a" stroke-width="1.9"/>
<text x="622.4" y="267.2" font-family='"Liberation Serif", serif' font-size="8.3" fill="#222" textLength="20.5" lengthAdjust="spacingAndGlyphs" stroke="#222" stroke-width="0.08">−3/2</text>
<line x1="622.5" y1="323.9" x2="622.5" y2="373.6" stroke="#111" stroke-width="1.3"/>
<polygon points="622.5,321.9 620.2,326.53999999999996 622.5,325.38 624.8,326.53999999999996" fill="#111"/>
<line x1="641.5" y1="321.9" x2="641.5" y2="371" stroke="#111" stroke-width="1.3"/>
<polygon points="641.5,373 639.2,368.36 641.5,369.52 643.8,368.36" fill="#111"/>
<text x="256" y="290" font-family='"Liberation Serif", serif' font-size="11" fill="#222" font-style="italic" textLength="15" lengthAdjust="spacingAndGlyphs">mw</text>
<text x="271.3" y="293.6" font-family='"Liberation Serif", serif' font-size="8.6" fill="#222">1</text>
<text x="275.5" y="290" font-family='"Liberation Sans", sans-serif' font-size="10.5" fill="#222" textLength="29" lengthAdjust="spacingAndGlyphs">+ exc.</text>
<text x="305.5" y="290" font-family='"Liberation Serif", serif' font-size="12.5" fill="#222" font-style="italic">π</text>
<text x="313" y="290" font-family='"Liberation Serif", serif' font-size="12.5" fill="#222" textLength="31" lengthAdjust="spacingAndGlyphs">(+1/2)</text>
<text x="327" y="331.6" font-family='"Liberation Sans", sans-serif' font-size="10.5" fill="#222" textLength="16.5" lengthAdjust="spacingAndGlyphs">det.</text>
<text x="315" y="344.4" font-family='"Liberation Serif", serif' font-size="12.5" fill="#222" font-style="italic">π</text>
<text x="322.5" y="344.4" font-family='"Liberation Serif", serif' font-size="12.5" fill="#222" textLength="32" lengthAdjust="spacingAndGlyphs">(+1/2)</text>
<text x="239" y="357" font-family='"Liberation Serif", serif' font-size="11" fill="#222" font-style="italic" textLength="15" lengthAdjust="spacingAndGlyphs">mw</text>
<text x="254.3" y="360.6" font-family='"Liberation Serif", serif' font-size="8.6" fill="#222">1</text>
<g transform="translate(264.4,346)" fill="none" stroke-linejoin="miter"><path d="M0,1.3 C7,0.8 13.5,2.2 14.6,6.5 C15.6,10.5 11.5,13.6 5,15.1" stroke="#1d3446" stroke-width="3.4"/><path d="M0.6,1.3 C7,0.8 13.5,2.2 14.6,6.5 C15.6,10.5 11.5,13.6 5.4,15.0" stroke="#fff" stroke-width="1.3"/><line x1="0.5" y1="-0.4" x2="0.5" y2="3" stroke="#1d3446" stroke-width="1"/><polygon points="0,15.4 4.4,11.1 4.7,19.9" fill="#fff" stroke="#1d3446" stroke-width="1.1"/></g>
<text x="385.6" y="290.4" font-family='"Liberation Sans", sans-serif' font-size="10.5" fill="#222" textLength="19.5" lengthAdjust="spacingAndGlyphs">exc.</text>
<text x="406.5" y="290.4" font-family='"Liberation Serif", serif' font-size="12.5" fill="#222" font-style="italic">π</text>
<text x="414" y="290.4" font-family='"Liberation Serif", serif' font-size="12.5" fill="#222" textLength="30.5" lengthAdjust="spacingAndGlyphs">(+1/2)</text>
<text x="433.6" y="332" font-family='"Liberation Sans", sans-serif' font-size="10.5" fill="#222" textLength="16.5" lengthAdjust="spacingAndGlyphs">det.</text>
<text x="422" y="344.4" font-family='"Liberation Serif", serif' font-size="12.5" fill="#222" font-style="italic">π</text>
<text x="429.5" y="344.4" font-family='"Liberation Serif", serif' font-size="12.5" fill="#222" textLength="32.5" lengthAdjust="spacingAndGlyphs">(+1/2)</text>
<text x="491" y="317" font-family='"Liberation Sans", sans-serif' font-size="10.5" fill="#222" textLength="19.5" lengthAdjust="spacingAndGlyphs">exc.</text>
<text x="511.5" y="317" font-family='"Liberation Serif", serif' font-size="12.5" fill="#222" font-style="italic">π</text>
<text x="519" y="317" font-family='"Liberation Serif", serif' font-size="12.5" fill="#222" textLength="31" lengthAdjust="spacingAndGlyphs">(−1/2)</text>
<text x="545" y="333" font-family='"Liberation Sans", sans-serif' font-size="10.5" fill="#222" textLength="16.5" lengthAdjust="spacingAndGlyphs">det.</text>
<text x="534.4" y="345.6" font-family='"Liberation Serif", serif' font-size="12.5" fill="#222" font-style="italic">π</text>
<text x="542" y="345.6" font-family='"Liberation Serif", serif' font-size="12.5" fill="#222" textLength="32.4" lengthAdjust="spacingAndGlyphs">(−1/2)</text>
<text x="593.6" y="315" font-family='"Liberation Serif", serif' font-size="11" fill="#222" font-style="italic" textLength="15" lengthAdjust="spacingAndGlyphs">mw</text>
<text x="608.9" y="318.6" font-family='"Liberation Serif", serif' font-size="8.6" fill="#222">3</text>
<text x="613" y="315" font-family='"Liberation Sans", sans-serif' font-size="10.5" fill="#222" textLength="29" lengthAdjust="spacingAndGlyphs">+ exc.</text>
<text x="643" y="315" font-family='"Liberation Serif", serif' font-size="12.5" fill="#222" font-style="italic">π</text>
<text x="650.5" y="315" font-family='"Liberation Serif", serif' font-size="12.5" fill="#222" textLength="30.5" lengthAdjust="spacingAndGlyphs">(−1/2)</text>
<text x="655" y="331" font-family='"Liberation Sans", sans-serif' font-size="10.5" fill="#222" textLength="16.5" lengthAdjust="spacingAndGlyphs">det.</text>
<text x="644.6" y="344" font-family='"Liberation Serif", serif' font-size="12.5" fill="#222" font-style="italic">π</text>
<text x="652" y="344" font-family='"Liberation Serif", serif' font-size="12.5" fill="#222" textLength="32" lengthAdjust="spacingAndGlyphs">(−1/2)</text>
<text x="579.6" y="382.4" font-family='"Liberation Serif", serif' font-size="11" fill="#222" font-style="italic" textLength="15" lengthAdjust="spacingAndGlyphs">mw</text>
<text x="594.9" y="386.0" font-family='"Liberation Serif", serif' font-size="8.6" fill="#222">3</text>
<g transform="translate(599.3,388.5) scale(1,-1)" fill="none" stroke-linejoin="miter"><path d="M0,1.3 C7,0.8 13.5,2.2 14.6,6.5 C15.6,10.5 11.5,13.6 5,15.1" stroke="#1d3446" stroke-width="3.4"/><path d="M0.6,1.3 C7,0.8 13.5,2.2 14.6,6.5 C15.6,10.5 11.5,13.6 5.4,15.0" stroke="#fff" stroke-width="1.3"/><line x1="0.5" y1="-0.4" x2="0.5" y2="3" stroke="#1d3446" stroke-width="1"/><polygon points="0,15.4 4.4,11.1 4.7,19.9" fill="#fff" stroke="#1d3446" stroke-width="1.1"/></g>
</svg></body></html>
